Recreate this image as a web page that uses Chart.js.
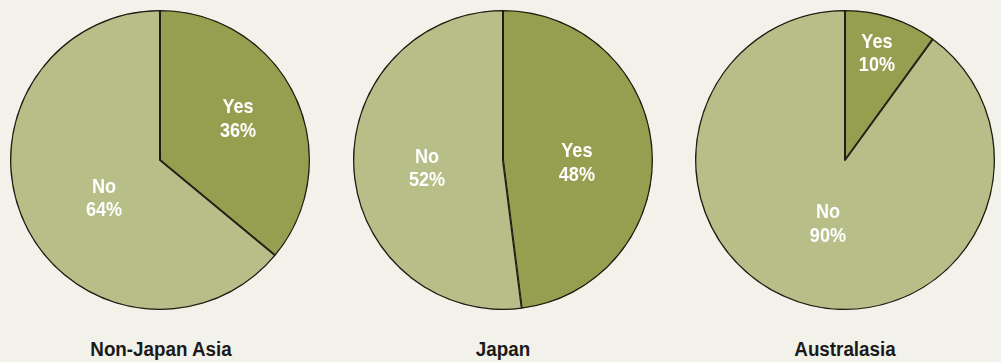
<!DOCTYPE html>
<html>
<head>
<meta charset="utf-8">
<script src="https://cdn.jsdelivr.net/npm/chart.js@4/dist/chart.umd.min.js"></script>
<style>
  html, body { margin: 0; padding: 0; background: #f3f2ea; }
  #wrap { position: relative; width: 1001px; height: 362px; overflow: hidden; background: #f3f2ea; }
  .pie { position: absolute; top: 0; width: 320px; height: 320px; }
  .title { position: absolute; top: 339px; width: 240px; text-align: center;
    font-family: "Liberation Sans", Arial, sans-serif;
    font-weight: bold; font-size: 20px; line-height: 20px; color: #1a1a1a;
    transform: scaleX(0.94); transform-origin: center; }
</style>
</head>
<body>
<div id="wrap">
  <div class="pie" style="left:0px"><canvas id="c0"></canvas></div>
  <div class="pie" style="left:343px"><canvas id="c1"></canvas></div>
  <div class="pie" style="left:685px"><canvas id="c2"></canvas></div>
  <div class="title" style="left:41px">Non-Japan Asia</div>
  <div class="title" style="left:383px">Japan</div>
  <div class="title" style="left:725px">Australasia</div>
</div>
<script>
// Survey answers per region (percent)
const answers = ['Yes', 'No'];
const regions = ['Non-Japan Asia', 'Japan', 'Australasia'];
const nonJapanAsia = [36, 64];
const japan = [48, 52];
const australasia = [10, 90];

const sliceColors = ['#969f50', '#b7be88'];

// Label placement per slice: [fraction of radius, angle tweak in degrees from the slice's mid-angle]
const labelPlacement = [
  [[0.587, -2.5], [0.453, -9.3]],
  [[0.493, 5.9], [0.510, -2.8]],
  [[0.741, -1.3], [0.440, -3.0]]
];

const FONT = '"Liberation Sans", Arial, sans-serif';

const sliceLabels = {
  id: 'sliceLabels',
  afterDatasetsDraw(chart, args, opts) {
    const ctx = chart.ctx;
    const meta = chart.getDatasetMeta(0);
    const values = chart.data.datasets[0].data;
    const squeeze = 0.86;
    meta.data.forEach((arc, i) => {
      const p = arc.getProps(['x', 'y', 'startAngle', 'endAngle', 'outerRadius'], true);
      const [frac, tweak] = opts.placement[i];
      const mid = (p.startAngle + p.endAngle) / 2 + tweak * Math.PI / 180;
      const r = p.outerRadius * frac;
      const x = p.x + Math.cos(mid) * r;
      const y = p.y + Math.sin(mid) * r;
      ctx.save();
      ctx.translate(x, y);
      ctx.scale(squeeze, 1);
      ctx.fillStyle = '#ffffff';
      ctx.font = 'bold 21px ' + FONT;
      ctx.textAlign = 'center';
      ctx.textBaseline = 'middle';
      ctx.fillText(chart.data.labels[i], 0, -11.5);
      ctx.fillText(values[i] + '%', 0, 12);
      ctx.restore();
    });
  }
};

function makePie(id, values, placement) {
  new Chart(document.getElementById(id), {
    type: 'pie',
    data: {
      labels: answers,
      datasets: [{
        data: values,
        backgroundColor: sliceColors,
        borderColor: '#1e1e14',
        borderWidth: 1,
        borderAlign: 'inner'
      }]
    },
    options: {
      responsive: true,
      maintainAspectRatio: false,
      animation: false,
      radius: 150,
      layout: { padding: 0 },
      plugins: {
        legend: { display: false },
        tooltip: { enabled: false },
        sliceLabels: { placement: placement }
      }
    },
    plugins: [sliceLabels]
  });
}

makePie('c0', nonJapanAsia, labelPlacement[0]);
makePie('c1', japan, labelPlacement[1]);
makePie('c2', australasia, labelPlacement[2]);
</script>
</body>
</html>
